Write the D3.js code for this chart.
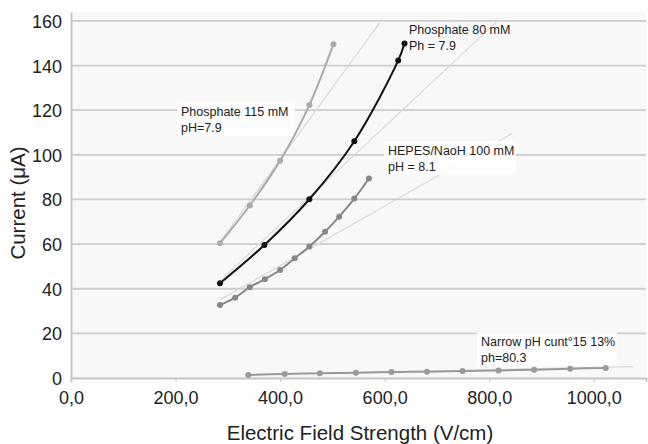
<!DOCTYPE html>
<html>
<head>
<meta charset="utf-8">
<script src="https://cdn.jsdelivr.net/npm/d3@7"></script>
<style>
  body { margin: 0; background: #fff; }
  text { font-family: "Liberation Sans", Arial, sans-serif; fill: #222; }
</style>
</head>
<body>
<div id="chart"></div>
<script>
// data
var phos115X = [285, 342, 400, 456, 502];
var phos115Y = [60.4, 77.3, 97.4, 122.3, 149.6];

var phos80X = [285, 370, 456, 542, 626, 638];
var phos80Y = [42.5, 59.6, 80.1, 106.1, 142.3, 149.9];

var hepesX = [285, 314, 342, 371, 400, 428, 456, 486, 513, 542, 570];
var hepesY = [32.7, 36.0, 40.7, 44.3, 48.4, 53.7, 58.9, 65.5, 72.3, 80.4, 89.4];

var narrowX = [339, 409, 476, 545, 613, 681, 749, 818, 886, 955, 1023];
var narrowY = [1.4, 1.8, 2.1, 2.4, 2.7, 2.8, 3.1, 3.4, 3.7, 4.2, 4.5];

// light straight trend lines [x0, y0, x1, y1]
var trend115 = [285, 60.9, 591, 159.3];
var trend80 = [285, 43.5, 815, 159.8];
var trendHepes = [285, 35, 843, 109.5];
var trendNarrow = [339, 1.4, 1075, 5.1];

var xTicks = [0, 200, 400, 600, 800, 1000];
var yTicks = [0, 20, 40, 60, 80, 100, 120, 140, 160];

var width = 648,
  height = 444;

var svg = d3.select('#chart').append('svg')
    .attr('width', width)
    .attr('height', height);

var x = d3.scaleLinear().domain([0, 1100]).range([71, 646]);
var y = d3.scaleLinear().domain([0, 164]).range([378, 12]);

// plot background
svg.append('rect')
    .attr('x', x(0)).attr('y', y(164))
    .attr('width', x(1100) - x(0)).attr('height', y(0) - y(164))
    .style('fill', '#f8f8f8');

// gridlines
svg.append('g').selectAll('line')
  .data(yTicks.filter(function(d) { return d > 0; }))
  .enter().append('line')
  .attr('x1', x(0)).attr('x2', x(1100))
  .attr('y1', function(d) { return y(d); })
  .attr('y2', function(d) { return y(d); })
  .style('stroke', '#cdcdcd')
  .style('stroke-width', 1.8);

// axes
var yAxis = d3.axisLeft(y).tickValues(yTicks).tickSize(0).tickPadding(9);
var gy = svg.append('g')
  .attr('transform', 'translate(' + x(0) + ',0)')
  .call(yAxis);
gy.select('.domain').style('stroke', '#c4c4c4').style('stroke-width', 1.8);
gy.selectAll('text').style('font-size', '18px').attr('dy', '0.36em');

var xAxis = d3.axisBottom(x).tickValues(xTicks).tickSize(4).tickPadding(9)
    .tickFormat(function(d) { return d3.format('.1f')(d).replace('.', ','); });
var gx = svg.append('g')
  .attr('transform', 'translate(0,' + y(0) + ')')
  .call(xAxis);
gx.select('.domain').style('stroke', '#c4c4c4').style('stroke-width', 1.8);
gx.selectAll('.tick line').style('stroke', '#c4c4c4');
gx.selectAll('text').style('font-size', '18px');

// trend lines
[trend115, trend80, trendHepes, trendNarrow].forEach(function(t) {
  svg.append('line')
    .attr('x1', x(t[0])).attr('y1', y(t[1]))
    .attr('x2', x(t[2])).attr('y2', y(t[3]))
    .style('stroke', '#d9d9d9')
    .style('stroke-width', 1.2);
});

// label boxes
function label(px, py, lines, w) {
  svg.append('rect')
    .attr('x', px - 4).attr('y', py - 14)
    .attr('width', w).attr('height', 34)
    .style('fill', '#fff').style('opacity', 0.85);
  lines.forEach(function(l, i) {
    svg.append('text')
      .attr('x', px).attr('y', py + i * 15.5)
      .style('font-size', '12.5px')
      .text(l);
  });
}

var line = d3.line()
  .x(function(d) { return x(d[0]); })
  .y(function(d) { return y(d[1]); })
  .curve(d3.curveCatmullRom);

function series(xs, ys, color, r) {
  var pts = xs.map(function(v, i) { return [v, ys[i]]; });
  svg.append('path')
    .datum(pts)
    .attr('d', line)
    .style('fill', 'none')
    .style('stroke', color)
    .style('stroke-width', 2);
  svg.append('g').selectAll('circle')
    .data(pts)
    .enter().append('circle')
    .attr('cx', function(d) { return x(d[0]); })
    .attr('cy', function(d) { return y(d[1]); })
    .attr('r', r)
    .style('fill', color);
}

label(181, 116, ['Phosphate 115 mM', 'pH=7.9'], 118);
label(388, 155, ['HEPES/NaoH 100 mM', 'pH = 8.1'], 132);
label(481, 346, ['Narrow pH cunt\u00b015 13%', 'ph=80.3'], 140);

series(narrowX, narrowY, '#9a9a9a', 3);
series(hepesX, hepesY, '#878787', 3);
series(phos115X, phos115Y, '#ababab', 3);
series(phos80X, phos80Y, '#111', 3);

label(409, 34, ['Phosphate 80 mM', 'Ph = 7.9'], 0);

// axis titles
svg.append('text')
  .attr('transform', 'translate(25,203) rotate(-90)')
  .attr('text-anchor', 'middle')
  .style('font-size', '20.5px')
  .text('Current (\u03bcA)');

svg.append('text')
  .attr('x', 360).attr('y', 440)
  .attr('text-anchor', 'middle')
  .style('font-size', '20.5px')
  .text('Electric Field Strength (V/cm)');
</script>
</body>
</html>
